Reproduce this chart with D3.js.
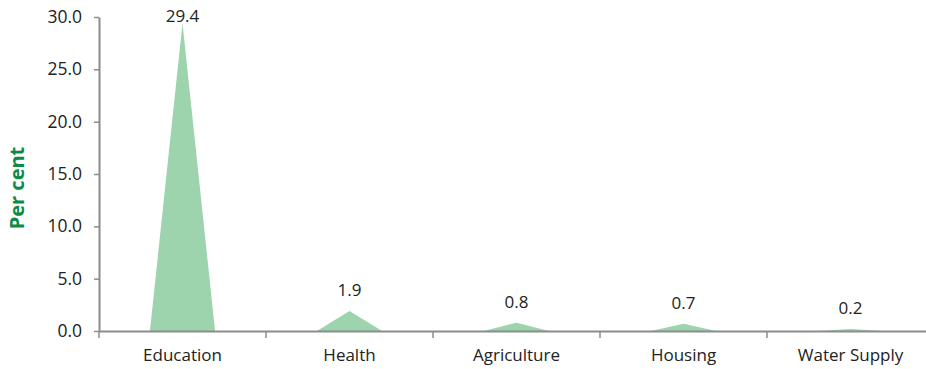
<!DOCTYPE html>
<html>
<head>
<meta charset="utf-8">
<script src="https://cdn.jsdelivr.net/npm/d3@7"></script>
<style>
body { margin: 0; background: #fff; }
text { font-family: "Open Sans", "Liberation Sans", sans-serif; }
</style>
</head>
<body>
<svg width="926" height="369"></svg>
<script>
var categories = ["Education", "Health", "Agriculture", "Housing", "Water Supply"];
var values = [29.4, 1.9, 0.8, 0.7, 0.2];
var yTicks = [0, 5, 10, 15, 20, 25, 30];

var svg = d3.select("svg");

var x = d3.scaleBand()
    .domain(categories)
    .range([99, 934]);

var y = d3.scaleLinear()
    .domain([0, 30])
    .range([331, 17]);

// cone-like triangles
svg.append("g")
    .selectAll("path")
    .data(values)
    .enter()
  .append("path")
    .attr("d", function(d, i) {
        var c = x(categories[i]) + x.bandwidth() / 2;
        var hw = x.bandwidth() * 0.195;
        return "M" + (c - hw) + "," + y(0) + "L" + c + "," + y(d) + "L" + (c + hw) + "," + y(0) + "Z";
    })
    .style("fill", "#9dd4ae");

// value labels
svg.append("g")
    .selectAll("text")
    .data(values)
    .enter()
  .append("text")
    .attr("x", function(d, i) { return x(categories[i]) + x.bandwidth() / 2; })
    .attr("y", function(d) { return Math.max(y(d) - 15, 22); })
    .attr("text-anchor", "middle")
    .style("font-size", "17px")
    .style("fill", "#222")
    .text(function(d) { return d.toFixed(1); });

// y axis
var yAxis = svg.append("g")
    .attr("transform", "translate(99,0)")
    .call(d3.axisLeft(y).tickValues(yTicks).tickFormat(d3.format(".1f")).tickSize(5).tickSizeOuter(0));
yAxis.select(".domain").attr("stroke", "#8c8c8c").attr("stroke-width", 2);
yAxis.selectAll(".tick line").attr("stroke", "#8c8c8c").attr("stroke-width", 1.5);
yAxis.selectAll(".tick text")
    .attr("x", -17)
    .style("font-size", "17.5px")
    .style("fill", "#222");

// x axis
var xAxis = svg.append("g")
    .attr("transform", "translate(0,331)")
    .call(d3.axisBottom(x).tickSize(0).tickSizeOuter(0));
xAxis.select(".domain").attr("stroke", "#8c8c8c").attr("stroke-width", 2);
xAxis.selectAll(".tick text")
    .attr("y", 18)
    .style("font-size", "17px")
    .style("fill", "#222");

// category boundary ticks
svg.append("g")
    .selectAll("line")
    .data(categories)
    .enter()
  .append("line")
    .attr("x1", function(d) { return x(d); })
    .attr("x2", function(d) { return x(d); })
    .attr("y1", 331)
    .attr("y2", 338)
    .attr("stroke", "#8c8c8c")
    .attr("stroke-width", 1.5);

svg.append("text")
    .attr("transform", "translate(24,188) rotate(-90)")
    .attr("text-anchor", "middle")
    .style("font-size", "20px")
    .style("font-weight", "bold")
    .style("fill", "#0e8a47")
    .text("Per cent");
</script>
</body>
</html>
